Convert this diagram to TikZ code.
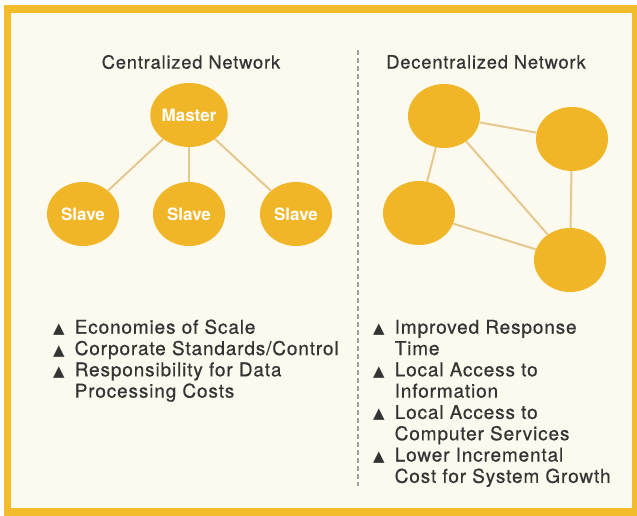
\documentclass[tikz,border=0pt]{standalone}
\usepackage{fontspec}
\usepackage{xcolor}
\usetikzlibrary{shapes.geometric,positioning}
\newfontfamily\bodyfont[LetterSpace=4.5,FakeBold=0.6]{TeX Gyre Heros}
\newfontfamily\unitfont{TeX Gyre Heros}
\newfontfamily\symfont{DejaVu Sans}
\definecolor{gold}{RGB}{241,182,40}
\definecolor{framegold}{RGB}{242,188,44}
\definecolor{cream}{RGB}{252,250,238}
\definecolor{linktan}{RGB}{229,200,142}
\definecolor{ink}{RGB}{52,52,52}
\definecolor{dashgray}{RGB}{160,160,160}
\newcommand{\tri}{{\symfont\fontsize{15}{15}\selectfont ▲}}
\tikzset{%
	unit/.style     = {ellipse, fill=gold, minimum width=72pt, minimum height=64pt, inner sep=0pt, text=white, font=\unitfont\bfseries\fontsize{17}{17}\selectfont},
	link/.style     = {draw=linktan, line width=2pt},
	heading/.style  = {text=ink, inner sep=0pt, font=\bodyfont\fontsize{18.3}{21.3}\selectfont},
	pros/.style     = {text=ink, inner sep=0pt, anchor=north west, font=\bodyfont\fontsize{19}{21.3}\selectfont},
	divider/.style  = {draw=dashgray, line width=1.5pt, dash pattern=on 5pt off 3pt},
}

\begin{document}
\begin{tikzpicture}[x=1pt,y=-1pt,node distance=99pt]
	\useasboundingbox (0,0) rectangle (637,516);
	\fill[white] (0,0) rectangle (637,516);
	\fill[cream] (7.5,9) rectangle (636,512);
	\draw[framegold,line width=7.5pt] (7.5,9) rectangle (636,512);
	
	% centralized side
	\node [heading] (tc) at (191,62) {Centralized Network};
	\node [unit] (m) at (189,115) {Master};
	\node [unit] (s2) [below of=m] {Slave};
	\node [unit] (s1) [left of=s2,node distance=106pt] {Slave};
	\node [unit] (s3) [right of=s2,node distance=107pt] {Slave};
	
	\draw[link] (m) -- (s1);
	\draw[link] (m) -- (s2);
	\draw[link] (m) -- (s3);
	
	% dividing line
	\coordinate (dtop) at (358,50);
	\coordinate (dbot) at (358,486);
	\draw[divider] (dtop) -- (dbot);
	
	% decentralized side
	\node [heading] (td) at (486,62) {Decentralized Network};
	\node [unit] (a) at (444,116) {};
	\node [unit] (b) at (572,139) {};
	\node [unit] (c) at (419,213) {};
	\node [unit] (d) at (570,260) {};
	
	\draw[link] (a) -- (b);
	\draw[link] (a) -- (c);
	\draw[link] (a) -- (d);
	\draw[link] (b) -- (d);
	\draw[link] (c) -- (d);
	
	% lists
	\node [pros] (pc) at (53,318.6) {\begin{tabular}{@{}c@{\hspace{10pt}}l@{}}
		\tri & Economies of Scale\\
		\tri & Corporate Standards/Control\\
		\tri & Responsibility for Data\\
		     & Processing Costs
	\end{tabular}};
	\node [pros] (pd) at (373,318.6) {\begin{tabular}{@{}c@{\hspace{10pt}}l@{}}
		\tri & Improved Response\\
		     & Time\\
		\tri & Local Access to\\
		     & Information\\
		\tri & Local Access to\\
		     & Computer Services\\
		\tri & Lower Incremental\\
		     & Cost for System Growth
	\end{tabular}};
\end{tikzpicture}
\end{document}
